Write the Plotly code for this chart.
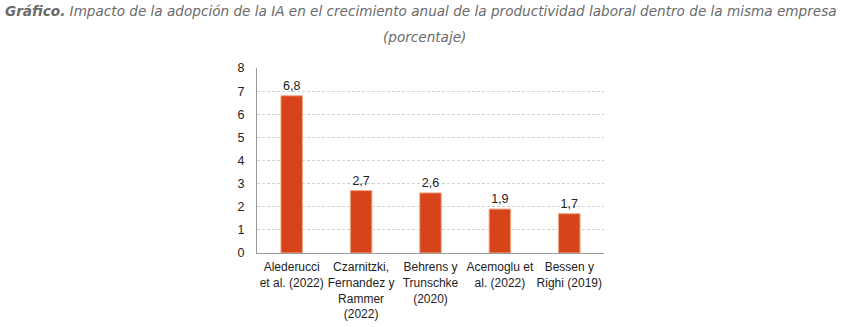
import plotly.graph_objects as go

# Estudios y su impacto estimado (puntos porcentuales por año)
estudios = [
    "Alederucci<br>et al. (2022)",
    "Czarnitzki,<br>Fernandez y<br>Rammer<br>(2022)",
    "Behrens y<br>Trunschke<br>(2020)",
    "Acemoglu et<br>al. (2022)",
    "Bessen y<br>Righi (2019)",
]
impacto = [6.8, 2.7, 2.6, 1.9, 1.7]
etiquetas = [f"{v:.1f}".replace(".", ",") for v in impacto]
ticks_y = [0, 1, 2, 3, 4, 5, 6, 7, 8]

W, H = 850, 327
L, R, T, B = 257, 246, 68, 74
ph = H - T - B
pw = W - L - R


def px(xp):
    return (xp - L) / pw


def py(yp):
    return (H - B - yp) / ph


fuente = "Liberation Sans, Arial"

fig = go.Figure(
    go.Bar(
        x=estudios,
        y=impacto,
        text=etiquetas,
        textposition="outside",
        cliponaxis=False,
        textfont=dict(family=fuente, size=12.5, color="#222"),
        marker=dict(color="#D8441A", line=dict(color="#F2A888", width=1)),
        width=0.31,
    )
)

fig.update_layout(
    width=W,
    height=H,
    margin=dict(l=L, r=R, t=T, b=B, autoexpand=False),
    paper_bgcolor="white",
    plot_bgcolor="white",
    showlegend=False,
    font=dict(family=fuente, size=12, color="#222"),
)

fig.update_yaxes(
    range=[0, 8],
    tickvals=ticks_y,
    ticks="",
    ticklabelstandoff=9,
    automargin=False,
    showgrid=True,
    gridcolor="#D2D2D2",
    griddash="3px,2px",
    gridwidth=1,
    showline=True,
    linecolor="#9A9A9A",
    linewidth=1,
    zeroline=False,
    tickfont=dict(family=fuente, size=12.5, color="#222"),
)
fig.update_xaxes(
    showline=True,
    linecolor="#9A9A9A",
    linewidth=1,
    ticks="",
    tickangle=0,
    automargin=False,
    ticklabelstandoff=3,
    tickfont=dict(family=fuente, size=12, color="#222"),
)

fig.add_annotation(
    text="<b>Gráfico.</b> Impacto de la adopción de la IA en el crecimiento anual de la productividad laboral dentro de la misma empresa",
    xref="paper", yref="paper", x=px(421), y=py(11),
    xanchor="center", yanchor="middle", showarrow=False,
    font=dict(family="DejaVu Sans", size=13.6, color="#6A6A6A", style="italic"),
)
fig.add_annotation(
    text="(porcentaje)",
    xref="paper", yref="paper", x=px(424), y=py(37),
    xanchor="center", yanchor="middle", showarrow=False,
    font=dict(family="DejaVu Sans", size=13.6, color="#6A6A6A", style="italic"),
)

fig.write_html("out.html")
